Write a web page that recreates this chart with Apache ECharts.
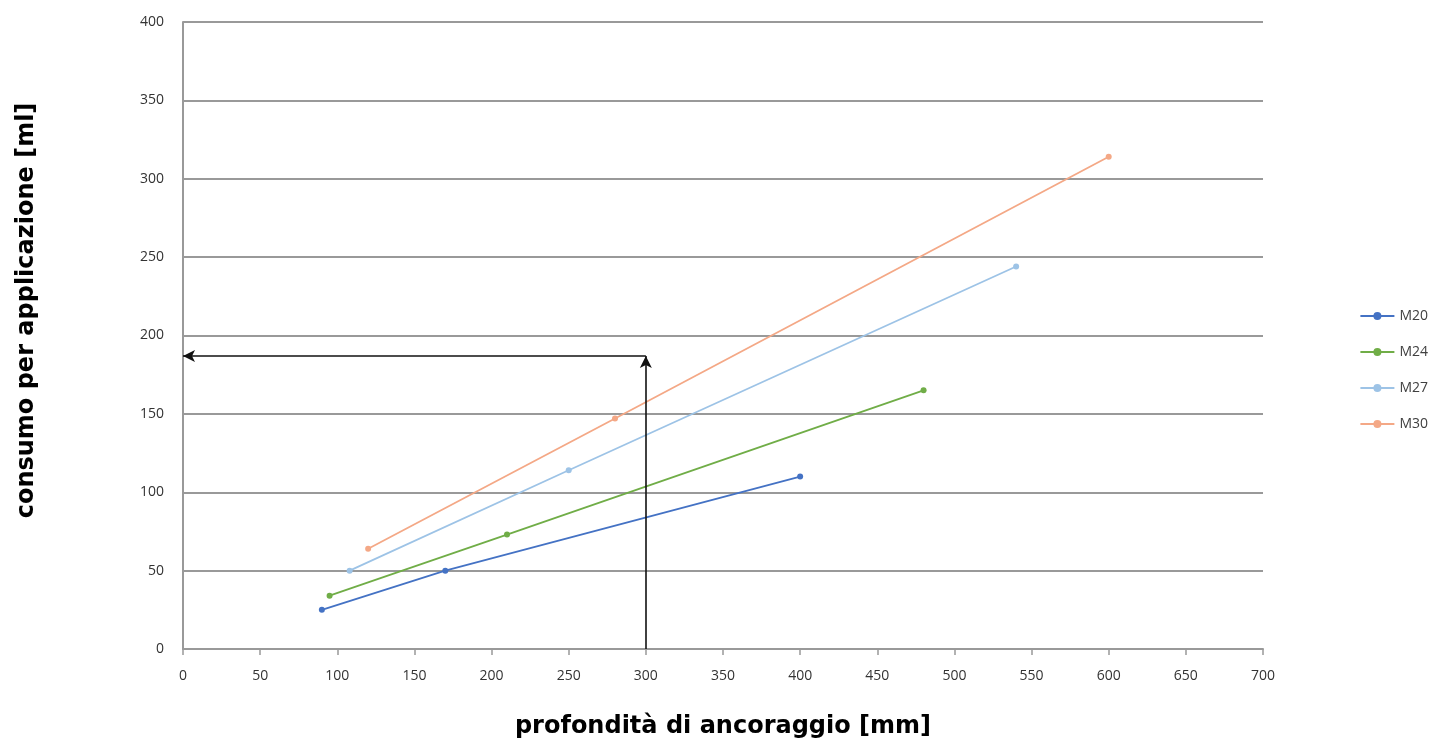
<!DOCTYPE html>
<html>
<head>
<meta charset="utf-8">
<script src="https://cdn.jsdelivr.net/npm/echarts@6/dist/echarts.min.js"></script>
<style>
  html, body { margin: 0; padding: 0; background: #fff; overflow: hidden; }
  #chart { width: 1447px; height: 742px; }
</style>
</head>
<body>
<div id="chart"></div>
<script>
// values
const seriesNames = ['M20', 'M24', 'M27', 'M30'];
const m20 = [[90, 25], [170, 50], [400, 110]];
const m24 = [[95, 34], [210, 73], [480, 165]];
const m27 = [[108, 50], [250, 114], [540, 244]];
const m30 = [[120, 64], [280, 147], [600, 314]];
const colors = ['#4472C4', '#70AD47', '#9DC3E6', '#F4A886'];
// reading example: 300 mm -> about 187 ml
const readX = 300;
const readY = 187;

const chart = echarts.init(document.getElementById('chart'));

const lineSeries = [m20, m24, m27, m30].map(function (d, i) {
  return {
    name: seriesNames[i],
    type: 'line',
    data: d,
    symbol: 'circle',
    symbolSize: 6,
    lineStyle: { width: 1.8, color: colors[i] },
    itemStyle: { color: colors[i] },
    z: 3
  };
});

// arrows drawn on the data scale
lineSeries.push({
  name: 'arrows',
  type: 'line',
  data: [],
  markLine: {
    silent: true,
    symbol: ['none', 'arrow'],
    symbolSize: [9, 12],
    label: { show: false },
    lineStyle: { color: '#111', width: 1.6, type: 'solid' },
    data: [
      [{ coord: [readX, 0] }, { coord: [readX, readY] }],
      [{ coord: [readX, readY] }, { coord: [0, readY] }]
    ]
  },
  z: 4
});

const titleFont = { fontFamily: 'DejaVu Sans', fontWeight: 'bold', fontSize: 24, color: '#000' };
const tickFont = { fontFamily: 'Open Sans', fontSize: 14, color: '#333' };

const option = {
  animation: false,
  grid: { left: 183, right: 184, top: 22, bottom: 93, outerBoundsMode: 'none' },
  legend: {
    orient: 'vertical',
    right: 14,
    top: 304,
    itemGap: 22,
    itemWidth: 34,
    itemHeight: 10,
    data: seriesNames,
    textStyle: { fontFamily: 'Open Sans', fontSize: 14, color: '#404040' }
  },
  xAxis: {
    type: 'value',
    min: 0,
    max: 700,
    interval: 50,
    name: 'profondità di ancoraggio [mm]',
    nameLocation: 'middle',
    nameGap: 66,
    nameTextStyle: titleFont,
    axisLine: { lineStyle: { color: '#999', width: 2 } },
    axisTick: { show: true, length: 6, lineStyle: { color: '#999', width: 1.5 } },
    axisLabel: Object.assign({ margin: 20 }, tickFont),
    splitLine: { show: false }
  },
  yAxis: {
    type: 'value',
    min: 0,
    max: 400,
    interval: 50,
    name: 'consumo per applicazione [ml]',
    nameLocation: 'middle',
    nameGap: 144,
    nameTextStyle: Object.assign({ padding: [0, 0, 0, 50] }, titleFont),
    axisLine: { show: true, lineStyle: { color: '#999', width: 2 } },
    axisTick: { show: false },
    axisLabel: Object.assign({ margin: 19 }, tickFont),
    splitLine: { show: true, lineStyle: { color: '#999', width: 2 } }
  },
  series: lineSeries
};

chart.setOption(option);
</script>
</body>
</html>
